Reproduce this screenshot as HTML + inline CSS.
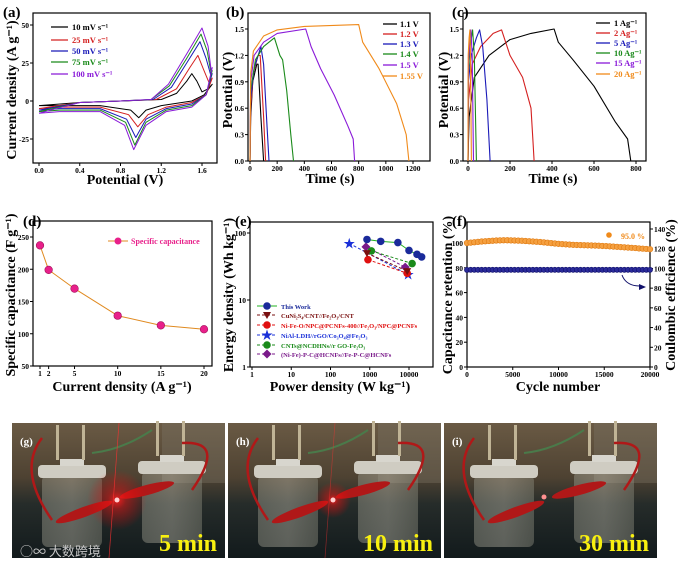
<!DOCTYPE html>
<html><head><meta charset="utf-8"><style>
body{margin:0;background:#fff}
svg{display:block;font-family:"Liberation Serif","Noto Serif CJK SC",serif;font-weight:bold}
</style></head><body>
<svg id="fig" width="681" height="566" viewBox="0 0 681 566" xmlns="http://www.w3.org/2000/svg">
<defs>
<linearGradient id="bg" x1="0" y1="0" x2="0" y2="1"><stop offset="0" stop-color="#6a5a44"/><stop offset="0.4" stop-color="#4e4232"/><stop offset="0.6" stop-color="#262c2a"/><stop offset="1" stop-color="#121a1c"/></linearGradient>
<linearGradient id="beaker" x1="0" y1="0" x2="1" y2="0"><stop offset="0" stop-color="#9a9a8c" stop-opacity="0.45"/><stop offset="0.5" stop-color="#c8c4b4" stop-opacity="0.4"/><stop offset="1" stop-color="#8a8a7c" stop-opacity="0.45"/></linearGradient>
<radialGradient id="glow"><stop offset="0" stop-color="#ff2020" stop-opacity="0.9"/><stop offset="0.3" stop-color="#ff1010" stop-opacity="0.45"/><stop offset="1" stop-color="#ff0000" stop-opacity="0"/></radialGradient>
</defs>
</svg>
<script>
// ---- data (a) CV curves [V, I]
const cvLabels=["10 mV s\u207B\u00B9","25 mV s\u207B\u00B9","50 mV s\u207B\u00B9","75 mV s\u207B\u00B9","100 mV s\u207B\u00B9"];
const cv10=[[0,-3],[0.4,-1],[0.8,0],[1.2,1],[1.35,5],[1.45,13],[1.5,18],[1.55,13],[1.6,6],[1.66,8],[1.7,11],[1.62,4],[1.5,0],[1.2,-3],[1.05,-6],[0.98,-11],[0.9,-6],[0.6,-3],[0.2,-3],[0,-3]];
const cv25=[[0,-5],[0.4,-1],[0.8,0],[1.15,1],[1.35,8],[1.48,22],[1.56,30],[1.62,20],[1.67,12],[1.7,15],[1.64,4],[1.5,-1],[1.25,-4],[1.07,-9],[0.97,-17],[0.88,-9],[0.6,-4],[0.2,-4],[0,-5]];
const cv50=[[0,-6],[0.4,-1],[0.8,0],[1.12,1],[1.3,9],[1.45,25],[1.58,39],[1.64,28],[1.69,16],[1.7,18],[1.64,4],[1.5,-2],[1.25,-5],[1.05,-12],[0.95,-24],[0.86,-12],[0.6,-5],[0.2,-5],[0,-6]];
const cv75=[[0,-7],[0.4,-1],[0.8,0],[1.1,1],[1.28,10],[1.45,28],[1.59,44],[1.65,33],[1.69,18],[1.7,20],[1.64,4],[1.5,-3],[1.25,-6],[1.05,-14],[0.94,-29],[0.85,-14],[0.6,-6],[0.2,-6],[0,-7]];
const cv100=[[0,-8],[0.4,-1],[0.8,0],[1.1,1],[1.27,11],[1.45,31],[1.6,48],[1.66,36],[1.69,20],[1.7,22],[1.64,4],[1.5,-4],[1.25,-7],[1.05,-16],[0.93,-32],[0.84,-16],[0.6,-7],[0.2,-7],[0,-8]];
const cvSeries=[cv10,cv25,cv50,cv75,cv100];
const aXTicks=[0,0.4,0.8,1.2,1.6];
const aYTicks=[-25,0,25,50];
// ---- (b) GCD at different voltages [t, V]
const bLabels=["1.1 V","1.2 V","1.3 V","1.4 V","1.5 V","1.55 V"];
const b11=[[0,0],[5,0.5],[20,0.9],[50,1.1],[60,1.1],[80,0.5],[100,0]];
const b12=[[0,0],[5,0.6],[25,1.0],[60,1.2],[75,1.2],[100,0.5],[115,0]];
const b13=[[0,0],[5,0.7],[30,1.05],[80,1.3],[100,1.1],[125,0.4],[140,0]];
const b14=[[0,0],[5,0.8],[40,1.15],[100,1.3],[180,1.4],[220,1.2],[240,1.15],[270,0.8],[300,0.3],[320,0]];
const b15=[[0,0],[5,0.9],[30,1.2],[100,1.35],[200,1.45],[410,1.5],[450,1.3],[520,1.05],[620,0.75],[720,0.4],[760,0.25],[770,0]];
const b155=[[0,0],[5,1.0],[25,1.25],[100,1.42],[200,1.49],[400,1.53],[800,1.55],[830,1.35],[950,1.05],[1080,0.65],[1150,0.3],[1170,0]];
const bSeries=[b11,b12,b13,b14,b15,b155];
const bXTicks=[0,200,400,600,800,1000,1200];
const vTicks=[0,0.3,0.6,0.9,1.2,1.5];
// ---- (c) GCD at different current densities
const cLabels=["1 Ag\u207B\u00B9","2 Ag\u207B\u00B9","5 Ag\u207B\u00B9","10 Ag\u207B\u00B9","15 Ag\u207B\u00B9","20 Ag\u207B\u00B9"];
const c1=[[0,0],[5,0.5],[30,0.95],[100,1.2],[200,1.38],[300,1.45],[410,1.5],[430,1.35],[500,1.15],[600,0.85],[700,0.45],[760,0.25],[775,0]];
const c2=[[0,0],[3,0.7],[20,1.1],[60,1.3],[120,1.45],[160,1.49],[200,1.2],[260,0.95],[300,0.6],[310,0.2],[315,0]];
const c5=[[0,0],[2,0.9],[15,1.2],[40,1.4],[55,1.49],[70,1.3],[90,0.7],[105,0]];
const c10=[[0,0],[2,1.0],[10,1.3],[22,1.49],[30,1.2],[40,0]];
const c15=[[0,0],[2,1.1],[8,1.35],[14,1.49],[20,1.2],[26,0]];
const c20=[[0,0],[1,1.2],[5,1.4],[9,1.49],[12,1.2],[16,0]];
const cSeries=[c1,c2,c5,c10,c15,c20];
const cXTicks=[0,200,400,600,800];
// ---- (d) specific capacitance
const dCurrent=[1,2,5,10,15,20];
const dCap=[237,199,170,128,113,107];
const dYTicks=[50,100,150,200,250];
// ---- (e) Ragone
const eLabels=["This Work","CuNi\u2082S\u2084/CNT//Fe\u2082O\u2083/CNT","Ni-Fe-O/NPC@PCNFs-400//Fe\u2082O\u2083/NPC@PCNFs","NiAl-LDH//rGO/Co\u2083O\u2084@Fe\u2082O\u2083","CNTs@NCDHNs//r GO-Fe\u2082O\u2083","(Ni-Fe)-P-C@HCNFs//Fe-P-C@HCNFs"];
const ePower0=[850,1900,5200,10000,16000,21000]; const eEnergy0=[80,75,72,55,48,44];
const ePower1=[850,9000]; const eEnergy1=[50,27];
const ePower2=[900,9000]; const eEnergy2=[40,25];
const ePower3=[300,9500]; const eEnergy3=[70,24];
const ePower4=[1100,12000]; const eEnergy4=[54,35];
const ePower5=[800,8000]; const eEnergy5=[62,31];
const eXTicks=[1,10,100,1000,10000];
const eYTicks=[1,10,100];
// ---- (f) cycling
const fCycles=[0,400,800,1200,1600,2000,2400,2800,3200,3600,4000,4400,4800,5200,5600,6000,6400,6800,7200,7600,8000,8400,8800,9200,9600,10000,10400,10800,11200,11600,12000,12400,12800,13200,13600,14000,14400,14800,15200,15600,16000,16400,16800,17200,17600,18000,18400,18800,19200,19600,20000];
const fRetention=[100,100.3,100.6,100.9,101.2,101.4,101.6,101.8,102,102.1,102.2,102.2,102.1,102,101.9,101.8,101.6,101.4,101.2,101,100.8,100.5,100.2,99.9,99.6,99.3,99.1,98.9,98.7,98.5,98.4,98.3,98.2,98.1,98,97.9,97.8,97.6,97.5,97.3,97.1,96.9,96.7,96.5,96.3,96.1,95.9,95.6,95.4,95.2,95];
const fCoulombic=[98.5,98.6,98.6,98.6,98.6,98.6,98.6,98.6,98.6,98.6,98.6,98.6,98.6,98.6,98.6,98.6,98.6,98.6,98.6,98.6,98.6,98.6,98.6,98.6,98.6,98.6,98.6,98.6,98.6,98.6,98.6,98.6,98.6,98.6,98.6,98.6,98.6,98.6,98.6,98.6,98.6,98.6,98.6,98.6,98.6,98.6,98.6,98.6,98.6,98.6,98.6];
const fXTicks=[0,5000,10000,15000,20000];
const fLTicks=[0,20,40,60,80,100];
const fRTicks=[0,20,40,60,80,100,120,140];

const NS="http://www.w3.org/2000/svg";
const S=document.getElementById('fig');
function mk(tag,attrs,parent){const e=document.createElementNS(NS,tag);for(const k in attrs)e.setAttribute(k,attrs[k]);(parent||S).appendChild(e);return e;}
function T(x,y,s,size,attrs,parent){const a=Object.assign({x:x,y:y,'font-size':size,fill:'#000'},attrs||{});const e=mk('text',a,parent);e.textContent=s;return e;}
function lin(d0,d1,r0,r1){return v=>r0+(v-d0)*(r1-r0)/(d1-d0);}
function logs(d0,d1,r0,r1){return v=>r0+(Math.log10(v)-Math.log10(d0))*(r1-r0)/(Math.log10(d1)-Math.log10(d0));}
function frame(x0,y0,x1,y1,name){const r=mk('rect',{x:x0,y:y0,width:x1-x0,height:y1-y0,fill:'none',stroke:'#000','stroke-width':1.2});}
function xticks(ticks,sx,yb,fmt,name){ticks.forEach(t=>{const x=sx(t);const l=mk('line',{x1:x,x2:x,y1:yb,y2:yb+3,stroke:'#000'});const tx=T(x,yb+10,fmt(t),7.5,{'text-anchor':'middle'});});}
function yticks(ticks,sy,xl,fmt,name,right){ticks.forEach(t=>{const y=sy(t);const l=mk('line',{x1:xl,x2:right?xl+3:xl-3,y1:y,y2:y,stroke:'#000'});const tx=T(right?xl+4:xl-4,y+3,fmt(t),7.5,{'text-anchor':right?'start':'end'});});}
function path(pts,sx,sy,color,w,extra){return mk('path',Object.assign({d:pts.map((p,i)=>(i?'L':'M')+sx(p[0]).toFixed(1)+','+sy(p[1]).toFixed(1)).join(''),fill:'none',stroke:color,'stroke-width':w||1,'stroke-linejoin':'round'},extra||{}));}
function title(x,y,s,size,rot,name){const e=T(x,y,s,size,{'text-anchor':'middle',transform:rot?`rotate(-90 ${x} ${y})`:''});return e;}
function plabel(x,y,s){const e=T(x,y,s,15);}
const cols=['#000','#d42020','#1a1ab8','#1a8a1a','#8a1ad8','#f08a1a'];

// ===== (a)
{const sx=lin(0,1.6,39,202),sy=lin(0,50,101,25);
frame(33,13,217,163,'cv-plot-frame');
xticks(aXTicks,sx,163,v=>v.toFixed(1),'a-x');yticks(aYTicks,sy,33,v=>String(v),'a-y');
cvSeries.forEach((s,i)=>{const c=cols[i];const p=path(s,sx,sy,c,1);
 const y=[27,40,51,62,74][i];const l=mk('line',{x1:51,x2:68,y1:y,y2:y,stroke:c,'stroke-width':1.3});
 const t=T(72,y+3,cvLabels[i],8.5,{fill:c});});
title(125,184,'Potential (V)',14,false,'x-axis-title');title(16,90,'Current density (A g\u207B\u00B9)',14,true,'y-axis-title');plabel(3,17,'(a)');}

// ===== (b)
{const sx=lin(0,1200,250,413),sy=lin(0,1.5,161,29);
frame(248,13,430,161,'gcd-voltage-frame');
xticks(bXTicks,sx,161,v=>String(v),'b-x');yticks(vTicks,sy,248,v=>v.toFixed(1),'b-y');
bSeries.forEach((s,i)=>{const p=path(s,sx,sy,cols[i],1.1);
 const y=[24,34,44,54,65,76][i];const l=mk('line',{x1:383,x2:397,y1:y,y2:y,stroke:cols[i],'stroke-width':1.3});
 const t=T(400,y+3,bLabels[i],8.5,{fill:cols[i]});});
title(330,183,'Time (s)',14,false,'x-axis-title');title(232,90,'Potential (V)',14,true,'y-axis-title');plabel(226,17,'(b)');}

// ===== (c)
{const sx=lin(0,800,468,636),sy=lin(0,1.5,161,29);
frame(463,13,646,161,'gcd-current-frame');
xticks(cXTicks,sx,161,v=>String(v),'c-x');yticks(vTicks,sy,463,v=>v.toFixed(1),'c-y');
cSeries.forEach((s,i)=>{const p=path(s,sx,sy,cols[i],1.1);
 const y=[23,33,43,53,63,74][i];const l=mk('line',{x1:596,x2:610,y1:y,y2:y,stroke:cols[i],'stroke-width':1.3});
 const t=T(614,y+3,cLabels[i],8.5,{fill:cols[i]});});
title(553,183,'Time (s)',14,false,'x-axis-title');title(448,90,'Potential (V)',14,true,'y-axis-title');plabel(452,17,'(c)');}

// ===== (d)
{const sx=lin(1,20,40,204),sy=lin(50,250,366,237);
frame(33,221,212,366,'capacitance-frame');
xticks(dCurrent,sx,366,v=>String(v),'d-x');yticks(dYTicks,sy,33,v=>String(v),'d-y');
const p=path(dCurrent.map((c,i)=>[c,dCap[i]]),sx,sy,'#e08a20',1);
dCurrent.forEach((c,i)=>{const m=mk('circle',{cx:sx(c),cy:sy(dCap[i]),r:3.8,fill:'#e8208a',stroke:'#a0105a','stroke-width':0.6});});
const ll=mk('line',{x1:108,x2:128,y1:241,y2:241,stroke:'#e08a20'});
const lm=mk('circle',{cx:118,cy:241,r:3.5,fill:'#e8208a'});
const lt=T(131,244,'Specific capacitance',8,{fill:'#e8208a'});
title(122,391,'Current density (A g\u207B\u00B9)',14,false,'x-axis-title');title(15,295,'Specific capacitance (F g\u207B\u00B9)',14,true,'y-axis-title');plabel(23,226,'(d)');}

// ===== (e)
{const sx=logs(1,10000,252,409),sy=logs(1,100,367,233);
frame(250,222,433,367,'ragone-frame');
xticks(eXTicks,sx,367,v=>String(v),'e-x');yticks(eYTicks,sy,250,v=>String(v),'e-y');
const P=[ePower0,ePower1,ePower2,ePower3,ePower4,ePower5],E=[eEnergy0,eEnergy1,eEnergy2,eEnergy3,eEnergy4,eEnergy5];
const mc=['#1a2a9a','#7a1010','#e01010','#1a30d8','#1a8a1a','#7a1a8a'];const lc=['#20b020','#7a1010','#e01010','#1a30d8','#1a8a1a','#7a1a8a'];
function marker(i,x,y,g){let e;if(i===0||i===4||i===2)e=mk('circle',{cx:x,cy:y,r:3.8,fill:mc[i]},g);else if(i===1)e=mk('path',{d:`M${x-4},${y-3}L${x+4},${y-3}L${x},${y+4}Z`,fill:mc[i]},g);else if(i===3)e=mk('text',{x:x,y:y+4,'font-size':12,'text-anchor':'middle',fill:mc[i]},g);else e=mk('path',{d:`M${x},${y-4.5}L${x+4.5},${y}L${x},${y+4.5}L${x-4.5},${y}Z`,fill:mc[i]},g);if(i===3)e.textContent='\u2605';return e;}
for(let i=5;i>=0;i--){const pts=P[i].map((p,j)=>[p,E[i][j]]);const l=path(pts,sx,sy,lc[i],1,{'stroke-dasharray':i?'3,2':''});
 P[i].forEach((p,j)=>{const m=marker(i,sx(p),sy(E[i][j]));});}
eLabels.forEach((s,i)=>{const y=[306,315,325,335,345,354][i];const l=mk('line',{x1:257,x2:277,y1:y,y2:y,stroke:lc[i],'stroke-dasharray':i?'3,2':''});
 const m=marker(i,267,y);
 const t=T(281,y+3,s,6.5,{fill:mc[i]});});
title(340,391,'Power density (W kg\u207B\u00B9)',14,false,'x-axis-title');title(233,295,'Energy density (Wh kg\u207B\u00B9)',14,true,'y-axis-title');plabel(235,226,'(e)');}

// ===== (f)
{const sx=lin(0,20000,467,650),sL=lin(0,100,367,243),sR=lin(0,140,367,229);
frame(467,222,650,367,'cycling-frame');
xticks(fXTicks,sx,367,v=>String(v),'f-x');yticks(fLTicks,sL,467,v=>String(v),'f-left-y');yticks(fRTicks,sR,650,v=>String(v),'f-right-y',true);
fCycles.forEach((c,i)=>{const m=mk('circle',{cx:sx(c),cy:sL(fRetention[i]),r:2.8,fill:'#f5a040',stroke:'#e07a10','stroke-width':0.6});
 const n=mk('circle',{cx:sx(c),cy:sR(fCoulombic[i]),r:2.6,fill:'#2a2a9a',stroke:'#10106a','stroke-width':0.6});});
const om=mk('circle',{cx:609,cy:235,r:2.8,fill:'#f08a1a'});
const ot=T(621,239,'95.0 %',8,{fill:'#f08a1a'});
const ar=mk('path',{d:'M622,275 Q626,286 640,286',fill:'none',stroke:'#10106a','stroke-width':1});
const ah=mk('path',{d:'M646,287 L639,284 L639,290 Z',fill:'#10106a'});
title(558,391,'Cycle number',14,false,'x-axis-title');title(452,295,'Capacitance retention (%)',14,true,'left-y-axis-title');title(675,295,'Coulombic efficience (%)',14,true,'right-y-axis-title');plabel(452,226,'(f)');}

// ===== photos (g)(h)(i)
function photo(x0,lab,tm,glow,name){const g=mk('g',{});
 mk('rect',{x:x0,y:423,width:213,height:135,fill:'url(#bg)'},g);
 mk('rect',{x:x0+150,y:423,width:63,height:60,fill:'#7a7464',opacity:0.4},g);
 [[x0+30,470],[x0+130,466]].forEach(b=>{mk('rect',{x:b[0],y:b[1]+5,width:60,height:72,rx:6,fill:'url(#beaker)'},g);mk('rect',{x:b[0]-4,y:b[1]-5,width:68,height:13,rx:4,fill:'#cfccc2'},g);mk('rect',{x:b[0]+18,y:b[1]-11,width:24,height:7,fill:'#d8d6ce'},g);
  mk('rect',{x:b[0]+14,y:b[1]-45,width:3,height:35,fill:'#c0b496'},g);mk('rect',{x:b[0]+40,y:b[1]-45,width:3,height:35,fill:'#c0b496'},g);});
 mk('path',{d:`M${x0+30},${423+15} Q${x0+5},${470} ${x0+40},${520}`,stroke:'#b01818','stroke-width':2.5,fill:'none'},g);
 mk('path',{d:`M${x0+80},${423+30} Q${x0+110},${450} ${x0+140},${430}`,stroke:'#4a7a4a','stroke-width':2,fill:'none'},g);
 mk('path',{d:`M${x0+170},${423+20} Q${x0+215},${440} ${x0+180},${490}`,stroke:'#b01818','stroke-width':2.5,fill:'none'},g);
 mk('ellipse',{cx:x0+72,cy:512,rx:30,ry:5,fill:'#b01818',transform:`rotate(-20 ${x0+72} 512)`},g);
 mk('ellipse',{cx:x0+135,cy:490,rx:28,ry:5,fill:'#b01818',transform:`rotate(-15 ${x0+135} 490)`},g);
 if(glow>0){mk('circle',{cx:x0+105,cy:500,r:30*glow,fill:'url(#glow)'},g);mk('line',{x1:x0+107,y1:423,x2:x0+97,y2:558,stroke:'#ff3030','stroke-width':0.7,opacity:glow*0.8},g);mk('circle',{cx:x0+105,cy:500,r:2.5,fill:'#ffd0d0'},g);}
 else mk('circle',{cx:x0+100,cy:497,r:2.5,fill:'#ff9090'},g);
 const l=T(x0+8,445,lab,11,{fill:'#fff'},g);
 const t=T(x0+205,551,tm,24,{fill:'#f8f010','text-anchor':'end'},g);
 return g;}
photo(12,'(g)','5 min',1,'photo-5min');photo(228,'(h)','10 min',0.6,'photo-10min');photo(444,'(i)','30 min',0,'photo-30min');
const wm=T(20,556,'\u25CB\u221E 大数跨境',13,{fill:'#c8c8c8','font-weight':'normal','font-family':'"Noto Sans CJK SC",sans-serif'});


</script>
</body></html>
